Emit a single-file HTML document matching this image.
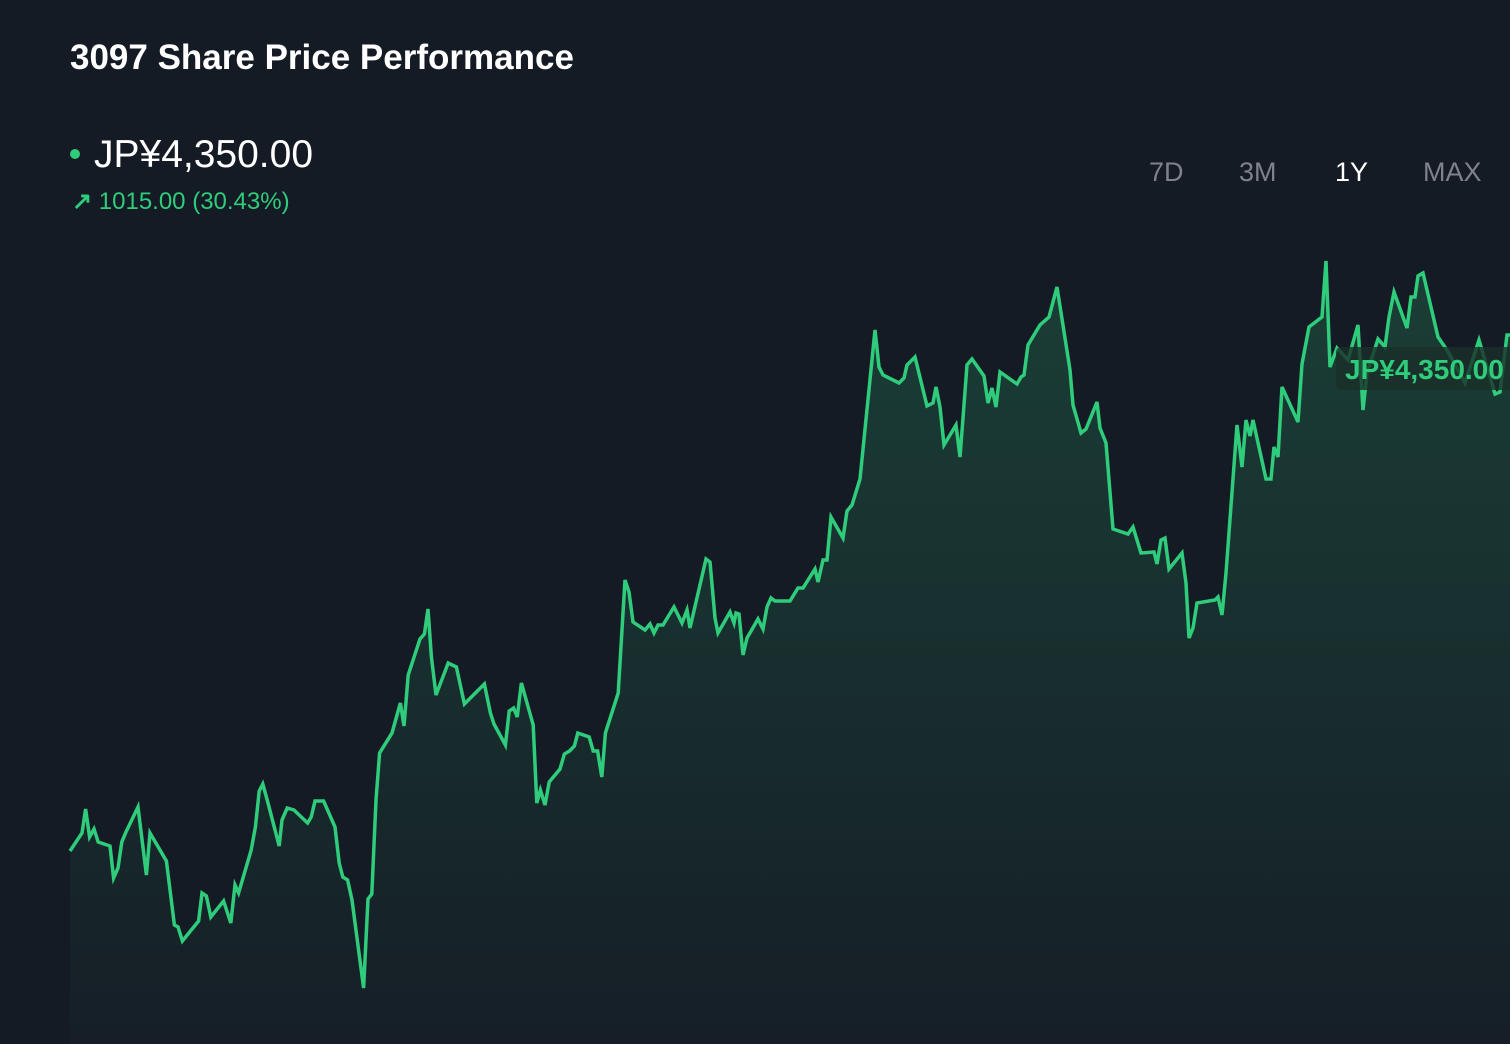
<!DOCTYPE html>
<html><head><meta charset="utf-8"><style>
html,body{margin:0;padding:0;background:#151b25;}
body{width:1510px;height:1044px;overflow:hidden;position:relative;font-family:"Liberation Sans",sans-serif;}
.t{position:absolute;white-space:nowrap;}
</style></head><body>
<div class="t" style="left:70px;top:38px;font-size:35px;font-weight:bold;color:#fff;letter-spacing:0px">3097 Share Price Performance</div>
<div style="position:absolute;left:70px;top:149px;width:10px;height:10px;border-radius:50%;background:#2ecc7b"></div>
<div class="t" style="left:94px;top:133px;font-size:39px;color:#fff">JP¥4,350.00</div>
<div class="t" style="left:72px;top:187px;font-size:24px;color:#2ecc7b"><b>↗</b> 1015.00 (30.43%)</div>
<div class="t" style="left:1149px;top:157px;font-size:27px;color:#7d828b">7D</div>
<div class="t" style="left:1239px;top:157px;font-size:27px;color:#7d828b">3M</div>
<div class="t" style="left:1335px;top:157px;font-size:27px;color:#fff">1Y</div>
<div class="t" style="left:1423px;top:157px;font-size:27px;color:#7d828b">MAX</div>
<svg id="chart" width="1510" height="1044" style="position:absolute;left:0;top:0">
<defs><linearGradient id="g" x1="0" y1="0" x2="0" y2="1">
<stop offset="0" stop-color="#2ecc7b" stop-opacity="0.2"/><stop offset="1" stop-color="#2ecc7b" stop-opacity="0.02"/></linearGradient></defs>
</svg>
<script>
const days=[0,3.0,3.9,4.9,6.0,7.05,10,10.9,12,12.95,14.0,17.0,19.1,20,24.1,26.1,27.0,28.1,32.15,33.0,34.1,35.2,38.4,40.2,41.25,42.15,45.3,46.35,47.3,48.2,49.3,52.3,53.0,54.3,56.0,59.4,60.3,61.25,63.4,66.25,67.3,68.2,69.4,70.5,73.4,74.5,75.45,76.5,77.4,80.5,81.9,82.6,83.5,84.55,87.5,88.6,89.5,90.35,91.5,94.55,96.6,98.6,103.6,105.1,106.0,108.85,109.8,110.9,111.8,112.85,115.8,116.7,117.6,118.75,119.8,122.5,123.6,124.9,126.1,126.95,129.8,130.8,131.9,132.95,133.85,137.05,138.75,139.75,140.75,143.75,145,146,147,148.25,151,153,154.25,155,159,160,161.25,162,165,166,166.5,167.25,168.25,169.25,172,173.25,174.25,175.25,176.25,180,182,183.25,186.25,187,188.25,189.25,190.25,193.25,194.25,195.5,197.5,201.25,202.25,203.25,207.25,208.5,209.25,211.25,214.25,215.75,216.5,217.5,218.5,221.5,222.5,223.25,224.25,225.5,228.5,229.5,230.5,231.5,232.5,236.75,237.75,238.5,239.5,242.5,244.75,246.75,250,250.75,252.75,254,256.75,257.5,259,260.75,264.5,265.75,267.75,271,271.75,272.75,273.75,274.75,278,279,279.75,280.75,281.75,286.25,287,288,289,291.75,293,294,295,295.75,299,300.25,301,302,303,307,308,309.75,313,314,315,316.75,319.5,322,323.25,324.25,327,328.75,329.75,331,334.25,335.25,336.25,337,338.25,342,344.25,348.75,352.25,354.25,356.25,357.5,359.25,360];
const prices=[3318,3354,3402,3346,3362,3336,3328,3264,3284,3336,3356,3406,3270,3354,3298,3170,3166,3138,3178,3234,3228,3186,3218,3174,3250,3234,3320,3366,3438,3452,3420,3328,3380,3404,3400,3374,3386,3418,3418,3366,3294,3266,3260,3220,3044,3222,3232,3420,3514,3554,3594,3614,3568,3670,3742,3752,3802,3706,3630,3694,3686,3612,3652,3594,3572,3530,3598,3604,3586,3654,3570,3414,3440,3410,3456,3482,3512,3518,3528,3554,3546,3518,3518,3466,3554,3634,3860,3836,3776,3760,3772,3754,3770,3770,3806,3774,3800,3764,3902,3896,3784,3754,3796,3774,3794,3792,3710,3744,3782,3762,3806,3824,3818,3818,3844,3844,3882,3856,3900,3900,3986,3944,3998,4010,4062,4360,4286,4270,4254,4264,4290,4306,4208,4214,4246,4206,4130,4170,4106,4184,4290,4302,4268,4214,4244,4206,4276,4252,4266,4270,4330,4370,4386,4446,4280,4210,4154,4162,4216,4164,4134,3962,3952,3966,3914,3916,3892,3940,3944,3882,3914,3854,3744,3764,3814,3820,3826,3790,3874,4170,4086,4180,4148,4180,4062,4062,4126,4106,4246,4176,4292,4366,4386,4498,4286,4324,4300,4370,4200,4274,4342,4326,4386,4436,4364,4426,4426,4468,4474,4346,4320,4254,4340,4286,4232,4236,4350,4350];
const xDomain=[0,360], yDomain=[3020,4520];
const labelText="JP¥4,350.00";
const X=d=>70+(d-xDomain[0])/(xDomain[1]-xDomain[0])*1440;
const Y=p=>1000-(p-yDomain[0])/(yDomain[1]-yDomain[0])*750;
const svg=document.getElementById('chart');
const NS='http://www.w3.org/2000/svg';
let pts=days.map((d,i)=>X(d).toFixed(2)+','+Y(prices[i]).toFixed(2));
const area=document.createElementNS(NS,'path');
area.setAttribute('d','M'+X(days[0])+',1044 L'+pts.join(' L')+' L'+X(days[days.length-1])+',1044 Z');
area.setAttribute('fill','url(#g)');


svg.appendChild(area);
const line=document.createElementNS(NS,'path');
line.setAttribute('d','M'+pts.join(' L'));
line.setAttribute('fill','none');line.setAttribute('stroke','#2ecc7b');line.setAttribute('stroke-width','3.5');line.setAttribute('stroke-linejoin','miter');


svg.appendChild(line);
const lastY=Y(prices[prices.length-1]);
const box=document.createElementNS(NS,'rect');
box.setAttribute('x',1336);box.setAttribute('y',lastY+12);box.setAttribute('width',180);box.setAttribute('height',43);box.setAttribute('rx',5);
box.setAttribute('fill','#1a3029');box.setAttribute('fill-opacity','0.8');


svg.appendChild(box);
const tx=document.createElementNS(NS,'text');
tx.setAttribute('x',1345);tx.setAttribute('y',lastY+44);tx.setAttribute('fill','#2ecc7b');tx.setAttribute('font-size','28');tx.setAttribute('font-weight','bold');tx.setAttribute('font-family','Liberation Sans, sans-serif');
tx.textContent=labelText;


svg.appendChild(tx);
</script>
</body></html>
